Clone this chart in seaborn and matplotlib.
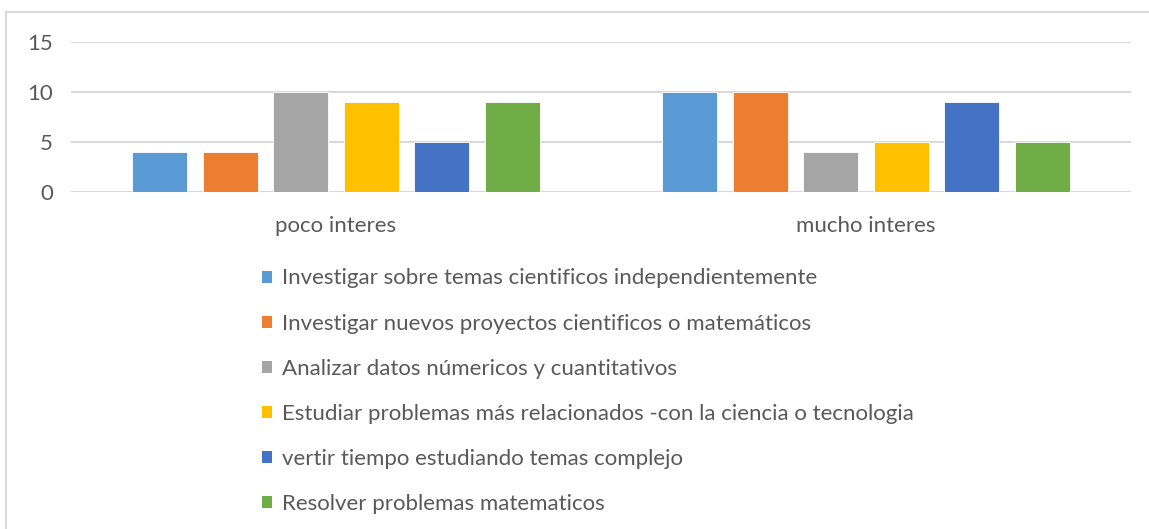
import matplotlib
matplotlib.use("Agg")
import matplotlib.pyplot as plt
import seaborn as sns
import pandas as pd
from matplotlib.patches import Rectangle, Patch

categories = ["poco interes", "mucho interes"]
series = [
    "Investigar sobre temas cientificos independientemente",
    "Investigar nuevos proyectos cientificos o matemáticos",
    "Analizar datos númericos y cuantitativos",
    "Estudiar problemas más relacionados -con la ciencia o tecnologia",
    "vertir tiempo estudiando temas complejo",
    "Resolver problemas matematicos",
]
values_poco = [4, 4, 10, 9, 5, 9]
values_mucho = [10, 10, 4, 5, 9, 5]
yticks = [0, 5, 10, 15]

colors = ["#5B9BD5", "#ED7D31", "#A5A5A5", "#FFC000", "#4472C4", "#70AD47"]

rows = []
for s, vp, vm in zip(series, values_poco, values_mucho):
    rows.append({"cat": categories[0], "serie": s, "val": vp})
    rows.append({"cat": categories[1], "serie": s, "val": vm})
df = pd.DataFrame(rows)

sns.set_theme(style="white")
plt.rcParams["font.family"] = ["Lato", "DejaVu Sans"]
TXT = "#595959"
FS = 16

W, H = 1149, 529
fig = plt.figure(figsize=(W / 100, H / 100), dpi=100)
ax = fig.add_axes([71 / W, 1 - 192.3 / H, (1131 - 71) / W, (192.3 - 41.7) / H])

sns.barplot(data=df, x="cat", y="val", hue="serie", order=categories,
            hue_order=series, palette=colors, width=0.798, gap=0.22,
            saturation=1, ax=ax, legend=False, zorder=3, linewidth=0.6)

ax.set_xlim(-0.5, 1.5)
ax.set_ylim(0, 15)
ax.set_yticks(yticks)
ax.set_yticklabels([str(t) for t in yticks])
ax.set_xlabel("")
ax.set_ylabel("")
for sp in ax.spines.values():
    sp.set_visible(False)
ax.yaxis.grid(True, color="#D9D9D9", linewidth=1.5, zorder=0)
ax.set_axisbelow(True)
ax.tick_params(axis="y", length=0, pad=13, labelsize=FS, labelcolor=TXT)
ax.tick_params(axis="x", length=0, pad=17, labelsize=FS, labelcolor=TXT)

# outer chart border (cropped on right/bottom in reference)
fig.patches.append(Rectangle((6 / W, -0.1), 1.2, 1 - 12 / H + 0.1,
                             transform=fig.transFigure, fill=False,
                             edgecolor="#D9D9D9", linewidth=1.5))

handles = [Patch(facecolor=c, edgecolor="none") for c in colors]
leg = fig.legend(handles, series, loc="upper left",
                 bbox_to_anchor=(262 / W, 1 - 268.5 / H), frameon=False,
                 fontsize=FS, labelspacing=1.13, handlelength=0.45,
                 handleheight=0.45, handletextpad=0.45, borderpad=0,
                 borderaxespad=0, labelcolor=TXT)

fig.savefig("out.png", dpi=100)
